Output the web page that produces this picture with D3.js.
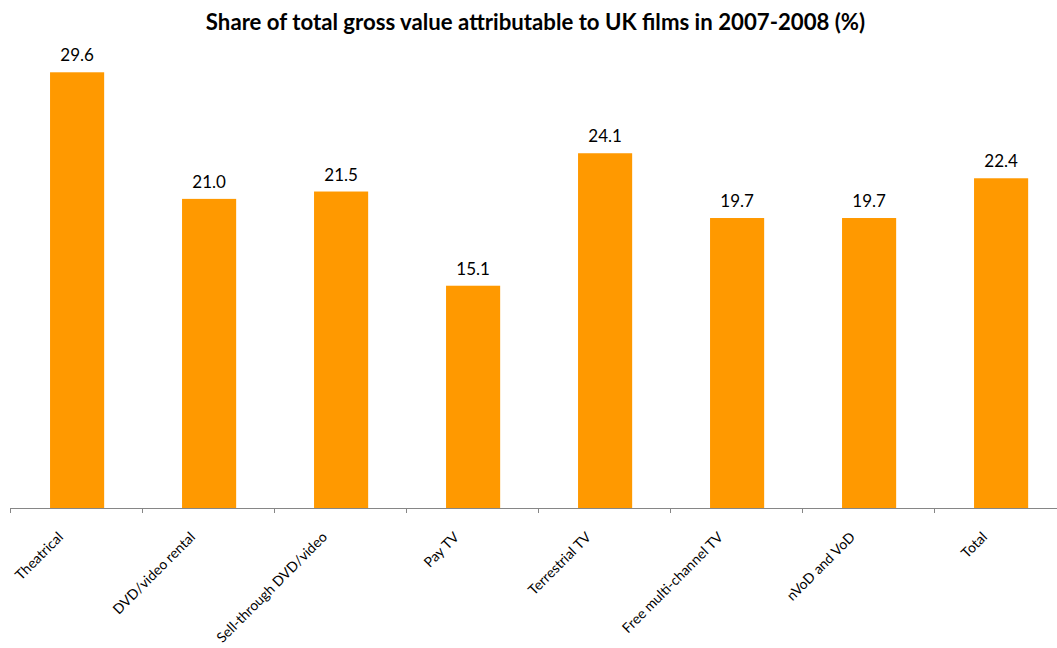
<!DOCTYPE html>
<html>
<head>
<meta charset="utf-8">
<script src="https://cdn.jsdelivr.net/npm/d3@7"></script>
<style>
  body { margin: 0; background: #fff; }
  svg text { font-family: Lato, "Open Sans", sans-serif; fill: #000; }
</style>
</head>
<body>
<svg id="chart" width="1057" height="648"></svg>
<script>
// Share of total gross value attributable to UK films, by window
const categories = ["Theatrical", "DVD/video rental", "Sell-through DVD/video", "Pay TV",
  "Terrestrial TV", "Free multi-channel TV", "nVoD and VoD", "Total"];
const values = [29.6, 21.0, 21.5, 15.1, 24.1, 19.7, 19.7, 22.4];
const title = "Share of total gross value attributable to UK films in 2007-2008 (%)";

const svg = d3.select("#chart");
const W = 1057;
const left = 10, right = 1066, baseY = 508;

// category slots (tick positions) and the bars placed inside them
const outer = d3.scaleBand().domain(categories).range([left, right]);
const x = d3.scaleBand().domain(categories).range([left + 1.1, right + 1.1])
  .paddingInner(0.59).paddingOuter(0.295);
const y = d3.scaleLinear().domain([0, 30]).range([baseY, 66.4]);

svg.append("text")
  .attr("x", 535.5).attr("y", 30)
  .attr("text-anchor", "middle")
  .attr("font-size", 22.2).attr("font-weight", "bold")
  .text(title);

svg.selectAll("rect.bar").data(values).join("rect")
  .attr("class", "bar")
  .attr("x", (d, i) => x(categories[i]))
  .attr("width", x.bandwidth())
  .attr("y", d => y(d))
  .attr("height", d => baseY - y(d))
  .attr("fill", "#FF9900");

svg.selectAll("text.val").data(values).join("text")
  .attr("class", "val")
  .attr("x", (d, i) => x(categories[i]) + x.bandwidth() / 2)
  .attr("y", d => y(d) - 11)
  .attr("text-anchor", "middle")
  .attr("font-size", 17)
  .text(d => d.toFixed(1));

// category axis
const axis = svg.append("g");
axis.append("line")
  .attr("x1", left).attr("x2", W).attr("y1", baseY + 0.5).attr("y2", baseY + 0.5)
  .attr("stroke", "#868686").attr("stroke-width", 1);
axis.selectAll("line.tick").data(categories).join("line")
  .attr("class", "tick")
  .attr("x1", d => Math.round(outer(d)) + 0.5).attr("x2", d => Math.round(outer(d)) + 0.5)
  .attr("y1", baseY).attr("y2", baseY + 5)
  .attr("stroke", "#868686");
axis.selectAll("text.cat").data(categories).join("text")
  .attr("class", "cat")
  .attr("transform", d => `translate(${outer(d) + outer.bandwidth() / 2 - 12},${baseY + 30}) rotate(-45)`)
  .attr("text-anchor", "end")
  .attr("font-size", 14)
  .text(d => d);
</script>
</body>
</html>
